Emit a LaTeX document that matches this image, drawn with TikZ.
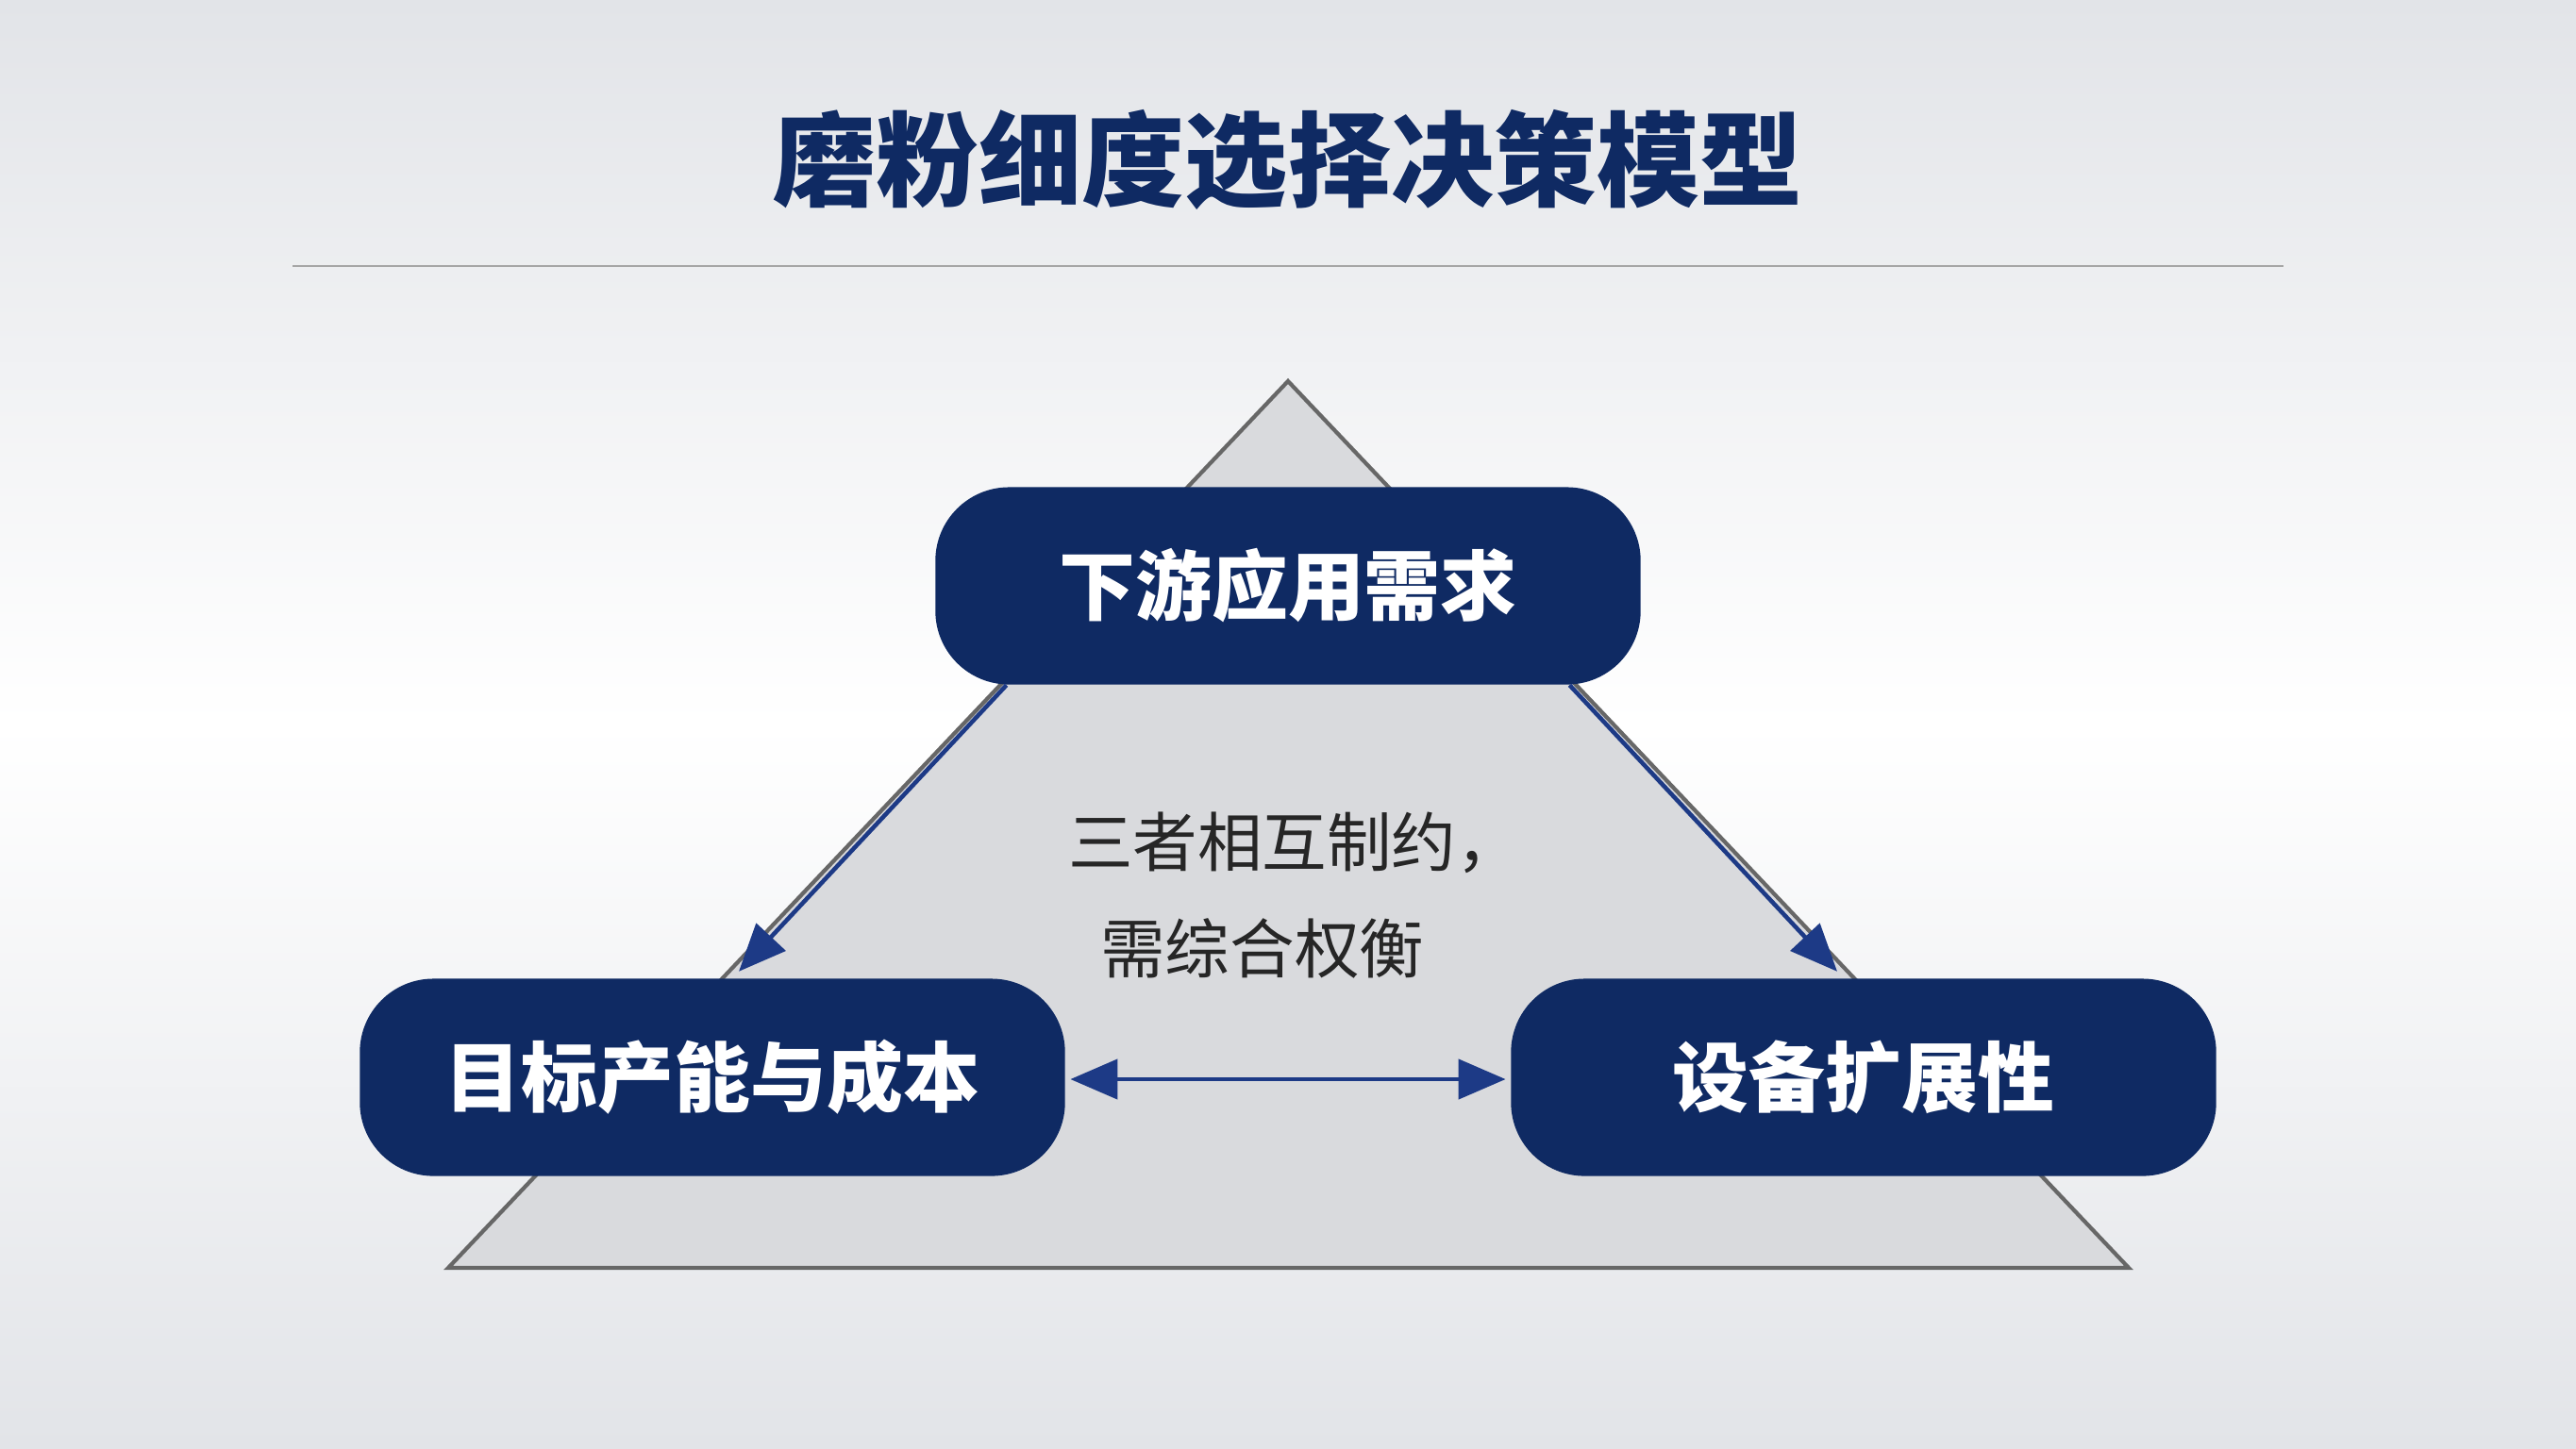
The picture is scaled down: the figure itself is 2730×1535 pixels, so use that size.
\documentclass[tikz,border=0pt]{standalone}
\usepackage{fontspec}
\setmainfont{Noto Sans CJK SC}
\usetikzlibrary{arrows.meta,calc}
\definecolor{navy}{HTML}{0F2A63}
\definecolor{arrowc}{HTML}{1D3A86}
\definecolor{trifill}{HTML}{D9DADD}
\definecolor{bgedge}{HTML}{E2E4E8}
\begin{document}
\begin{tikzpicture}[x=0.01cm,y=-0.01cm,
  box/.style={rectangle,rounded corners=0.78cm,fill=navy,text=white,minimum width=7.47cm,minimum height=2.09cm,font=\bfseries\fontsize{23}{28}\selectfont},
  conn/.style={draw=arrowc,line width=1.3pt,-{Triangle[length=0.5cm,width=0.42cm]}}]
\useasboundingbox (0,0) rectangle (2730,1535);
\shade[top color=bgedge,bottom color=bgedge,middle color=white] (0,0) rectangle (2730,1535);
\node (title) at (1365,169) {\bfseries\fontsize{31}{36}\selectfont\color{navy}磨粉细度选择决策模型};
\draw[gray!70,line width=0.8pt] (310,282) -- (2420,282);
\draw[fill=trifill,draw=gray!30!black!70,line width=1.2pt] (1365,404) -- (2256,1344) -- (475,1344) -- cycle;
\node[box] (top) at (1365,621) {下游应用需求};
\node[box] (left) at (755,1142) {目标产能与成本};
\node[box] (right) at (1975,1142) {设备扩展性};
\node[align=center,font=\fontsize{19.5}{32}\selectfont,text=black!85] (mid) at (1372,949) {三者相互制约，\\需综合权衡\hphantom{，}};
\draw[conn] ($(top.south west)+(76,0)$) -- ($(left.north)+(28,-7)$);
\draw[conn] ($(top.south east)+(-76,0)$) -- ($(right.north)+(-28,-7)$);
\draw[conn,{Triangle[length=0.5cm,width=0.42cm]}-{Triangle[length=0.5cm,width=0.42cm]}] ($(left.east)+(5,2)$) -- ($(right.west)+(-5,2)$);
\end{tikzpicture}
\end{document}
